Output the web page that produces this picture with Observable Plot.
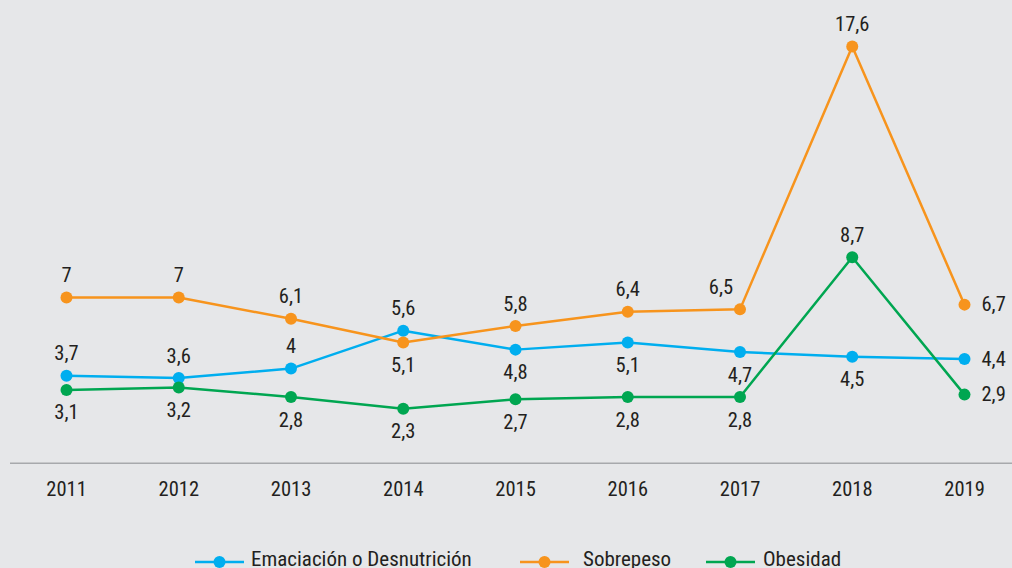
<!DOCTYPE html>
<html>
<head>
<meta charset="utf-8">
<script src="https://cdn.jsdelivr.net/npm/d3@7"></script>
<script src="https://cdn.jsdelivr.net/npm/@observablehq/plot@0.6"></script>
<style>
  html, body { margin: 0; padding: 0; background: #e6e7e9; overflow: hidden; }
  body { width: 1012px; height: 568px; font-family: "Roboto Condensed", "Liberation Sans Narrow", "DejaVu Sans Condensed", Roboto, sans-serif; }
  #legend { position: relative; height: 28px; font-size: 21px; color: #231f20; }
  .sw { position: absolute; top: 15px; }
  .lt { position: absolute; top: 5px; line-height: 28px; white-space: nowrap; }
</style>
</head>
<body>
<div id="chart"></div>
<div id="legend"></div>
<script>
const years = [2011, 2012, 2013, 2014, 2015, 2016, 2017, 2018, 2019];
const seriesNames = ["Emaciación o Desnutrición", "Sobrepeso", "Obesidad"];
const emaciacion = [3.7, 3.6, 4.0, 5.6, 4.8, 5.1, 4.7, 4.5, 4.4];
const sobrepeso  = [7.0, 7.0, 6.1, 5.1, 5.8, 6.4, 6.5, 17.6, 6.7];
const obesidad   = [3.1, 3.2, 2.8, 2.3, 2.7, 2.8, 2.8, 8.7, 2.9];
const colors = ["#00aeef", "#f7941d", "#00a651"];
// label placement per point: t = above, b = below, r = right, tl = above-left
const placement = [
  ["t", "t", "t", "t", "b", "b", "b", "b", "r"],
  ["t", "t", "t", "b", "t", "t", "tl", "t", "r"],
  ["b", "b", "b", "b", "b", "b", "b", "t", "r"]
];

const values = [emaciacion, sobrepeso, obesidad];
const data = [];
values.forEach((vals, s) => vals.forEach((v, i) => data.push({
  serie: seriesNames[s], year: years[i], value: v, place: placement[s][i]
})));

const fmt = v => String(v).replace(".", ",");
const font = `"Roboto Condensed", "Liberation Sans Narrow", "DejaVu Sans Condensed", Roboto, sans-serif`;
const FS = 20.5;

function labels(place, opts) {
  return Plot.text(data.filter(d => d.place === place), {
    x: "year", y: "value", text: d => fmt(d.value),
    fill: "#231f20", fontSize: FS, ...opts
  });
}

const chart = Plot.plot({
  width: 1012,
  height: 540,
  marginLeft: 10,
  marginRight: 0,
  marginTop: 46,
  marginBottom: 77,
  style: { background: "#e6e7e9", fontFamily: font, color: "#231f20" },
  x: { domain: [2011, 2019], range: [66, 964], ticks: years, tickFormat: d => String(d), label: null },
  y: { domain: [0, 17.6], range: [462.8, 46], axis: null },
  color: { domain: seriesNames, range: colors },
  marks: [
    Plot.ruleY([0], { stroke: "#a7a9ac", strokeWidth: 1.5 }),
    Plot.axisX({ ticks: years, tickSize: 0, tickPadding: 18, fontSize: FS, tickFormat: d => String(d), fill: "#231f20", label: null }),
    Plot.line(data, { x: "year", y: "value", z: "serie", stroke: "serie", strokeWidth: 2.5 }),
    Plot.dot(data, { x: "year", y: "value", fill: "serie", r: 6 }),
    labels("t", { dy: -22 }),
    labels("tl", { dy: -22, dx: -19 }),
    labels("b", { dy: 23 }),
    labels("r", { dx: 17, textAnchor: "start" })
  ]
});
document.getElementById("chart").appendChild(chart);

const swatchX = [195, 520, 706];
const textX = [251, 583, 763];
const legend = document.getElementById("legend");
seriesNames.forEach((name, i) => {
  const sw = document.createElementNS("http://www.w3.org/2000/svg", "svg");
  sw.setAttribute("class", "sw");
  sw.setAttribute("width", 49);
  sw.setAttribute("height", 14);
  sw.style.left = swatchX[i] + "px";
  sw.innerHTML = `<line x1="0" y1="7" x2="49" y2="7" stroke="${colors[i]}" stroke-width="2.5"/><circle cx="24.5" cy="7" r="6" fill="${colors[i]}"/>`;
  legend.appendChild(sw);
  const t = document.createElement("span");
  t.className = "lt";
  t.style.left = textX[i] + "px";
  t.textContent = name;
  legend.appendChild(t);
});
</script>
</body>
</html>
